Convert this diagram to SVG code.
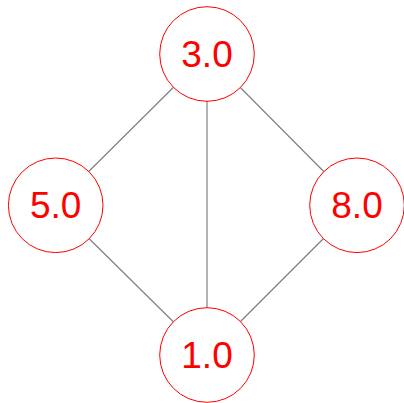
<svg xmlns="http://www.w3.org/2000/svg" width="404" height="403" viewBox="0 0 404 403">
<style>
.edge{stroke:#808080;stroke-width:1.2;fill:none}
.node circle{fill:#fff;stroke:#ff0000;stroke-width:1}
.node text{fill:#ff0000;font-family:"Liberation Sans",Arial,sans-serif;font-size:37px;text-anchor:middle}
</style>
<rect width="404" height="403" fill="#fff"/>
<g id="edges">
<line class="edge" x1="207" y1="54" x2="55" y2="205"/>
<line class="edge" x1="207" y1="54" x2="357" y2="205"/>
<line class="edge" x1="207" y1="54" x2="207" y2="355"/>
<line class="edge" x1="55" y1="205" x2="207" y2="355"/>
<line class="edge" x1="357" y1="205" x2="207" y2="355"/>
</g>
<g id="n3" class="node"><circle cx="207" cy="54" r="47.3"/><text x="207" y="67">3.0</text></g>
<g id="n5" class="node"><circle cx="55.7" cy="205.3" r="47.3"/><text x="55.7" y="218.3">5.0</text></g>
<g id="n8" class="node"><circle cx="357" cy="205.3" r="47.3"/><text x="357" y="218.3">8.0</text></g>
<g id="n1" class="node"><circle cx="207" cy="355" r="47.3"/><text x="207" y="368">1.0</text></g>
</svg>
